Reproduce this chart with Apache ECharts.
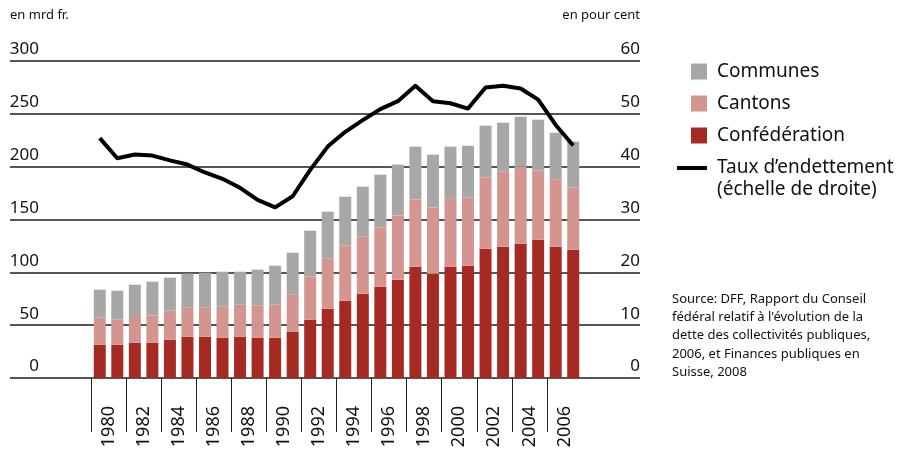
<!DOCTYPE html>
<html>
<head>
<meta charset="utf-8">
<script src="https://cdn.jsdelivr.net/npm/echarts@6/dist/echarts.min.js"></script>
<style>
  html, body { margin: 0; padding: 0; background: #fff; }
  #chart { width: 900px; height: 453px; }
</style>
</head>
<body>
<div id="chart"></div>
<script>
// Dette des collectivités publiques, en mrd fr. (barres) et taux d'endettement en % (ligne)
const years = ['1980', '1981', '1982', '1983', '1984', '1985', '1986', '1987', '1988', '1989',
  '1990', '1991', '1992', '1993', '1994', '1995', '1996', '1997', '1998', '1999',
  '2000', '2001', '2002', '2003', '2004', '2005', '2006', '2007']
const confederation = [31.5, 31.5, 33.4, 33.4, 36.2, 39, 39, 38.1, 39, 38.1,
  38.1, 43.9, 55.2, 65.6, 73.2, 79.8, 86.4, 93, 105.3, 98.7,
  105.3, 106.3, 122.4, 124.3, 127.1, 130.9, 124.3, 121.4]
const cantons = [25.8, 23.7, 24.3, 25.8, 27.5, 27.5, 27.5, 29.4, 30.4, 30.6,
  31.3, 34.9, 40.7, 47.3, 52.3, 53.9, 56.1, 60.9, 63.7, 62.7,
  64.2, 64.4, 67.4, 70.9, 72.9, 65.3, 63.7, 59]
const communes = [26.3, 27.4, 30.6, 31.9, 31.3, 32.3, 33.1, 33.1, 31.2, 33.8,
  36.9, 39.8, 43.5, 44.5, 46.1, 47.4, 50, 48.1, 50, 50,
  49.5, 49.1, 49, 46.4, 47.3, 48.3, 44.2, 43.3]
const tauxEndettement = [45.4, 41.6, 42.3, 42.1, 41.2, 40.4, 38.9, 37.7, 36, 33.7,
  32.3, 34.4, 39.4, 43.8, 46.6, 48.8, 50.9, 52.4, 55.3, 52.4,
  52, 51, 55, 55.3, 54.8, 52.7, 47.9, 44]
const yearLabels = [1980, 1982, 1984, 1986, 1988, 1990, 1992, 1994, 1996, 1998, 2000, 2002, 2004, 2006]

const FONT = 'Noto Sans'
const chart = echarts.init(document.getElementById('chart'), null, { renderer: 'canvas' })

// labels sit between each pair of years, separators at the start of each pair
const labelPos = yearLabels.map(y => y + 0.5)
const sepPos = yearLabels.map(y => y - 0.5)

chart.setOption({
  animation: false,
  backgroundColor: '#fff',
  textStyle: { fontFamily: FONT },
  grid: [
    { left: 10, right: 260, top: 61, bottom: 75 },   // full-width rules
    { left: 91, right: 318, top: 61, bottom: 75 },   // bars
  ],
  xAxis: [
    { gridIndex: 0, type: 'value', min: 0, max: 1, show: false },
    {
      gridIndex: 1, type: 'category', data: years, boundaryGap: true,
      axisLine: { show: false }, axisTick: { show: false }, axisLabel: { show: false },
    },
    {
      gridIndex: 1, type: 'value', min: 1979.5, max: 2007.5, position: 'bottom', offset: 23,
      splitLine: { show: false },
      axisLine: { show: false },
      axisTick: { show: true, length: 54, customValues: sepPos, lineStyle: { color: '#222', width: 1 } },
      axisLabel: {
        customValues: labelPos, rotate: 90, margin: 5,
        formatter: v => String(Math.floor(v)),
        color: '#111', fontSize: 18, fontFamily: FONT,
      },
    },
  ],
  yAxis: [
    {
      gridIndex: 0, type: 'value', min: 0, max: 300, interval: 50, position: 'left',
      axisLine: { show: false }, axisTick: { show: false },
      splitLine: { lineStyle: { color: '#555', width: 2 } },
      axisLabel: {
        inside: true, margin: 29, align: 'right', verticalAlign: 'bottom', padding: [0, 0, 3, 0],
        color: '#111', fontSize: 17, fontFamily: FONT,
      },
    },
    {
      gridIndex: 0, type: 'value', min: 0, max: 60, interval: 10, position: 'right',
      axisLine: { show: false }, axisTick: { show: false }, splitLine: { show: false },
      axisLabel: {
        inside: true, margin: 0, align: 'right', verticalAlign: 'bottom', padding: [0, 0, 3, 0],
        color: '#111', fontSize: 17, fontFamily: FONT,
      },
    },
    { gridIndex: 1, type: 'value', min: 0, max: 300, show: false },
    { gridIndex: 1, type: 'value', min: 0, max: 60, show: false },
  ],
  legend: [
    {
      data: ['Communes', 'Cantons', 'Confédération'],
      orient: 'vertical', left: 686, top: 57,
      icon: 'rect', itemWidth: 16, itemHeight: 16, itemGap: 13,
      textStyle: { fontSize: 19, lineHeight: 16, color: '#111', fontFamily: FONT, padding: [0, 0, 0, 5] },
      selectedMode: false,
    },
    {
      data: ['Taux d’endettement'],
      left: 672, top: 153,
      icon: 'rect', itemWidth: 30, itemHeight: 4,
      textStyle: { fontSize: 19, lineHeight: 20, color: '#111', fontFamily: FONT, padding: [0, 0, 0, 5] },
      selectedMode: false,
    },
  ],
  graphic: [
    { type: 'text', left: 10, top: 9, style: { text: 'en mrd fr.', fontSize: 13, fontFamily: FONT, fill: '#111' } },
    { type: 'text', right: 260, top: 9, style: { text: 'en pour cent', fontSize: 13, fontFamily: FONT, fill: '#111', align: 'right' } },
    { type: 'text', left: 717, top: 180, style: { text: '(échelle de droite)', fontSize: 19, fontFamily: FONT, fill: '#111' } },
    {
      type: 'text', left: 672, top: 290,
      style: {
        text: 'Source: DFF, Rapport du Conseil\nfédéral relatif à l\'évolution de la\ndette des collectivités publiques,\n2006, et Finances publiques en\nSuisse, 2008',
        fontSize: 13, lineHeight: 18.3, fontFamily: FONT, fill: '#111',
      },
    },
  ],
  series: [
    {
      name: 'Confédération', type: 'bar', stack: 'dette', xAxisIndex: 1, yAxisIndex: 2,
      data: confederation, barWidth: 12, itemStyle: { color: '#a52a22' },
    },
    {
      name: 'Cantons', type: 'bar', stack: 'dette', xAxisIndex: 1, yAxisIndex: 2,
      data: cantons, barWidth: 12, itemStyle: { color: '#d49490' },
    },
    {
      name: 'Communes', type: 'bar', stack: 'dette', xAxisIndex: 1, yAxisIndex: 2,
      data: communes, barWidth: 12, itemStyle: { color: '#a8a7a5' },
    },
    {
      name: 'Taux d’endettement', type: 'line', xAxisIndex: 1, yAxisIndex: 3,
      data: tauxEndettement, showSymbol: false, symbol: 'none', z: 5,
      itemStyle: { color: '#000' },
      lineStyle: { color: '#000', width: 4, join: 'round' },
    },
  ],
})
</script>
</body>
</html>
